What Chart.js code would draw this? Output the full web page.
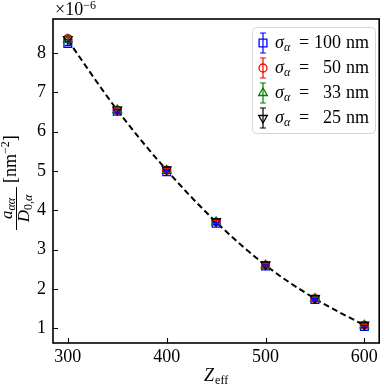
<!DOCTYPE html>
<html lang="en">
<head>
<meta charset="UTF-8">
<title>a/D vs Zeff</title>
<script src="https://cdn.jsdelivr.net/npm/chart.js@4.4.0/dist/chart.umd.min.js"></script>
<style>
  body { margin: 0; background: #fff; }
  #wrap { width: 386px; height: 385px; }
</style>
</head>
<body>
<div id="wrap"><canvas id="myChart" width="386" height="385"></canvas></div>
<script>
// values, in units of 1e-6 nm^-2
var zeff = [300, 350, 400, 450, 500, 550, 600];
var sigma100 = [8.25, 6.52, 4.98, 3.67, 2.58, 1.73, 1.04];
var sigma50  = [8.37, 6.55, 5.02, 3.70, 2.60, 1.75, 1.07];
var sigma33  = [8.35, 6.55, 5.01, 3.70, 2.60, 1.75, 1.07];
var sigma25  = [8.36, 6.56, 5.04, 3.72, 2.62, 1.76, 1.09];
var err100 = [0.05, 0.04, 0.04, 0.03, 0.03, 0.02, 0.02];
var err50  = [0.07, 0.05, 0.05, 0.04, 0.03, 0.03, 0.03];
var err33  = [0.08, 0.06, 0.05, 0.04, 0.04, 0.03, 0.03];
var err25  = [0.08, 0.06, 0.05, 0.04, 0.04, 0.03, 0.03];
var fitLine = [8.33, 6.55, 5.02, 3.70, 2.60, 1.75, 1.07];
var xTicks = [300, 400, 500, 600];
var yTicks = [1, 2, 3, 4, 5, 6, 7, 8];
var sigmaLabels = ['100', '50', '33', '25'];

var SERIF = "'Liberation Serif', 'DejaVu Serif', serif";

function pts(vals) {
  return zeff.map(function (z, i) { return { x: z, y: vals[i] }; });
}

// marker drawing for the legend (same shapes as the plot)
function drawMarker(ctx, style, x, y, color) {
  ctx.save();
  ctx.strokeStyle = color;
  ctx.lineWidth = 1.3;
  ctx.beginPath();
  if (style == 'rect') {
    ctx.rect(x - 3.9, y - 3.9, 7.8, 7.8);
  } else if (style == 'circle') {
    ctx.arc(x, y, 4, 0, Math.PI * 2);
  } else if (style == 'up') {
    ctx.moveTo(x, y - 5); ctx.lineTo(x + 4.33, y + 2.5); ctx.lineTo(x - 4.33, y + 2.5); ctx.closePath();
  } else {
    ctx.moveTo(x, y + 5); ctx.lineTo(x + 4.33, y - 2.5); ctx.lineTo(x - 4.33, y - 2.5); ctx.closePath();
  }
  ctx.stroke();
  ctx.restore();
}

// draws a run of text pieces, each with its own font and vertical shift
function richText(ctx, parts, x, y) {
  parts.forEach(function (p) {
    ctx.font = p.f;
    ctx.fillText(p.t, x, y + (p.dy || 0));
    x += ctx.measureText(p.t).width + (p.gap || 0);
  });
  return x;
}
function richWidth(ctx, parts) {
  var w = 0;
  parts.forEach(function (p) { ctx.font = p.f; w += ctx.measureText(p.t).width + (p.gap || 0); });
  return w;
}

var extras = {
  id: 'extras',
  afterDatasetsDraw: function (chart) {
    var ctx = chart.ctx, xs = chart.scales.x, ys = chart.scales.y;
    chart.data.datasets.forEach(function (ds) {
      if (!ds.err) return;
      ctx.save();
      ctx.strokeStyle = ds.borderColor;
      ctx.lineWidth = 1.2;
      ds.data.forEach(function (p, i) {
        var px = xs.getPixelForValue(p.x);
        var top = ys.getPixelForValue(p.y + ds.err[i]);
        var bot = ys.getPixelForValue(p.y - ds.err[i]);
        ctx.beginPath();
        ctx.moveTo(px, top); ctx.lineTo(px, bot);
        ctx.moveTo(px - 3, top); ctx.lineTo(px + 3, top);
        ctx.moveTo(px - 3, bot); ctx.lineTo(px + 3, bot);
        ctx.stroke();
      });
      ctx.restore();
    });
  },
  afterDraw: function (chart) {
    var ctx = chart.ctx, a = chart.chartArea, xs = chart.scales.x, ys = chart.scales.y;
    ctx.save();
    // frame
    ctx.strokeStyle = '#000';
    ctx.lineWidth = 1.6;
    ctx.strokeRect(a.left, a.top, a.right - a.left, a.bottom - a.top);
    // inward ticks
    ctx.lineWidth = 1.1;
    ctx.beginPath();
    xTicks.forEach(function (v) {
      var px = Math.round(xs.getPixelForValue(v)) + 0.5;
      ctx.moveTo(px, a.bottom); ctx.lineTo(px, a.bottom - 5);
    });
    yTicks.forEach(function (v) {
      var py = Math.round(ys.getPixelForValue(v)) + 0.5;
      ctx.moveTo(a.left, py); ctx.lineTo(a.left + 5, py);
    });
    ctx.stroke();

    ctx.fillStyle = '#000';
    ctx.textBaseline = 'alphabetic';
    ctx.textAlign = 'left';
    // offset text
    richText(ctx, [
      { t: '\u00d710', f: '18px ' + SERIF },
      { t: '\u22126', f: '12px ' + SERIF, dy: -6 }
    ], 55, 15);

    // x label
    var xl = [
      { t: 'Z', f: 'italic 18px ' + SERIF, gap: 1 },
      { t: 'eff', f: '12px ' + SERIF, dy: 3 }
    ];
    richText(ctx, xl, (a.left + a.right) / 2 - richWidth(ctx, xl) / 2, 381);

    // y label, rotated
    ctx.save();
    ctx.translate(0, (a.top + a.bottom) / 2);
    ctx.rotate(-Math.PI / 2);
    var num = [
      { t: 'a', f: 'italic 17px ' + SERIF },
      { t: '\u03b1\u03b1', f: 'italic 12px ' + SERIF, dy: 3 }
    ];
    var den = [
      { t: 'D', f: 'italic 17px ' + SERIF },
      { t: '0,', f: '12px ' + SERIF, dy: 3 },
      { t: '\u03b1', f: 'italic 12px ' + SERIF, dy: 3 }
    ];
    var fracL = -49, fracR = -6, fracC = (fracL + fracR) / 2;
    richText(ctx, num, fracC - richWidth(ctx, num) / 2, 12);
    richText(ctx, den, fracC - richWidth(ctx, den) / 2, 29);
    ctx.lineWidth = 1;
    ctx.beginPath(); ctx.moveTo(fracL, 16.5); ctx.lineTo(fracR, 16.5); ctx.stroke();
    richText(ctx, [
      { t: '[nm', f: '18px ' + SERIF },
      { t: '\u22122', f: '12px ' + SERIF, dy: -7 },
      { t: ']', f: '18px ' + SERIF }
    ], -2, 16);
    ctx.restore();

    // legend
    var lx = 252, ly = 27, lw = 123, lh = 106;
    ctx.fillStyle = 'rgba(255,255,255,0.85)';
    ctx.strokeStyle = '#d6d6d6';
    ctx.lineWidth = 1;
    ctx.beginPath();
    ctx.roundRect(lx + 0.5, ly + 0.5, lw, lh, 4);
    ctx.fill(); ctx.stroke();
    var legendDs = chart.data.datasets.filter(function (d) { return d.legendStyle; });
    legendDs.sort(function (p, q) { return p.legendRow - q.legendRow; });
    legendDs.forEach(function (ds, i) {
      var cy = 43 + i * 25, mx = 263;
      ctx.strokeStyle = ds.borderColor;
      ctx.lineWidth = 1.2;
      ctx.beginPath();
      ctx.moveTo(mx, cy - 10); ctx.lineTo(mx, cy + 10);
      ctx.moveTo(mx - 3, cy - 10); ctx.lineTo(mx + 3, cy - 10);
      ctx.moveTo(mx - 3, cy + 10); ctx.lineTo(mx + 3, cy + 10);
      ctx.stroke();
      drawMarker(ctx, ds.legendStyle, mx, cy, ds.borderColor);
      ctx.fillStyle = '#000';
      var by = cy + 5;
      richText(ctx, [
        { t: '\u03c3', f: 'italic 18px ' + SERIF },
        { t: '\u03b1', f: 'italic 12px ' + SERIF, dy: 3 }
      ], 275, by);
      ctx.font = '18px ' + SERIF;
      ctx.fillText('=', 299, by);
      ctx.textAlign = 'right';
      ctx.fillText(sigmaLabels[ds.legendRow], 341, by);
      ctx.textAlign = 'left';
      ctx.fillText('nm', 346, by);
    });
    ctx.restore();
  }
};

function series(vals, err, color, style, rot, radius, row, order) {
  return {
    data: pts(vals),
    err: err,
    showLine: false,
    borderColor: color,
    backgroundColor: 'transparent',
    pointStyle: style == 'circle' ? 'circle' : (style == 'rect' ? 'rect' : 'triangle'),
    pointRotation: rot,
    pointRadius: radius,
    pointBorderWidth: 1.3,
    pointBackgroundColor: 'transparent',
    legendStyle: style,
    legendRow: row,
    order: order
  };
}

var ctx = document.getElementById('myChart').getContext('2d');
var myChart = new Chart(ctx, {
  type: 'line',
  data: {
    datasets: [
      series(sigma25, err25, '#000000', 'down', 180, 5, 3, 1),
      series(sigma33, err33, '#008000', 'up', 0, 5, 2, 2),
      series(sigma50, err50, '#ff0000', 'circle', 0, 4, 1, 3),
      series(sigma100, err100, '#0000ff', 'rect', 0, 5.5, 0, 4),
      {
        data: pts(fitLine),
        borderColor: '#000',
        borderWidth: 2,
        borderDash: [6, 3.5],
        pointRadius: 0,
        fill: false,
        cubicInterpolationMode: 'monotone',
        order: 5
      }
    ]
  },
  options: {
    responsive: false,
    animation: false,
    layout: { padding: { left: 0, top: 19, right: 1, bottom: 0 } },
    plugins: { legend: { display: false }, tooltip: { enabled: false } },
    scales: {
      x: {
        type: 'linear',
        min: 285, max: 615,
        afterFit: function (s) { s.height = 42; },
        afterBuildTicks: function (s) { s.ticks = xTicks.map(function (v) { return { value: v }; }); },
        grid: { display: false, drawTicks: false },
        border: { display: false },
        ticks: { color: '#000', padding: 3, font: { family: SERIF, size: 18 } }
      },
      y: {
        type: 'linear',
        min: 0.62, max: 8.87,
        afterFit: function (s) { s.width = 53; },
        afterBuildTicks: function (s) { s.ticks = yTicks.map(function (v) { return { value: v }; }); },
        grid: { display: false, drawTicks: false },
        border: { display: false },
        ticks: { color: '#000', padding: 7, font: { family: SERIF, size: 18 } }
      }
    }
  },
  plugins: [extras]
});
</script>
</body>
</html>
